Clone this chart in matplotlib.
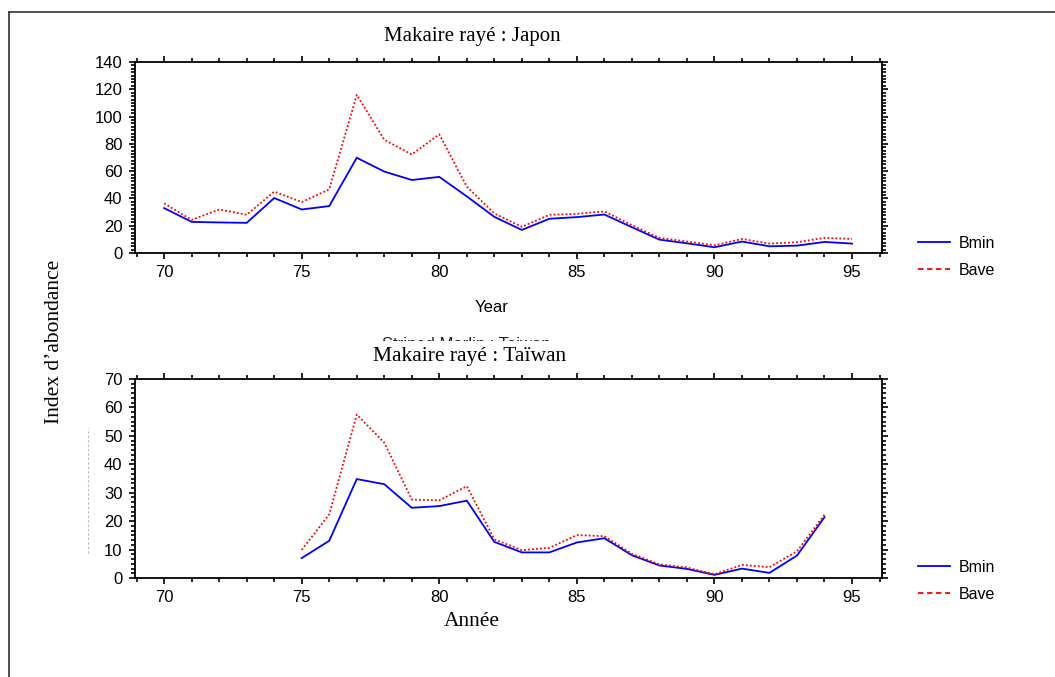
import matplotlib
matplotlib.use('Agg')
import matplotlib.pyplot as plt
from matplotlib.lines import Line2D
from matplotlib.patches import Rectangle
from matplotlib.ticker import MultipleLocator, AutoMinorLocator

# Japon
annees_jp = list(range(70, 96))
bmin_jp = [32.9, 22.8, 22.4, 22.1, 40.3, 31.9, 34.4, 69.8, 59.7, 53.5, 55.8, 41.5, 26.5,
           16.9, 25.1, 26.3, 28.2, 18.9, 9.8, 7.1, 4.2, 8.4, 4.9, 5.4, 8.1, 6.9]
bave_jp = [36.4, 24.3, 31.9, 28.0, 45.0, 37.3, 46.7, 115.9, 83.0, 72.2, 87.0, 48.6, 29.0,
           19.2, 28.0, 28.7, 30.5, 20.4, 11.1, 8.4, 5.6, 10.3, 6.9, 7.9, 11.1, 10.3]

# Taïwan
annees_tw = list(range(75, 95))
bmin_tw = [7.0, 13.1, 34.8, 33.0, 24.7, 25.3, 27.2, 12.7, 9.0, 9.0, 12.5, 14.0,
           8.0, 4.4, 3.2, 1.1, 3.3, 1.8, 7.9, 21.4]
bave_tw = [9.9, 22.4, 57.5, 47.6, 27.6, 27.3, 32.3, 13.6, 9.8, 10.6, 15.1, 14.7,
           8.5, 4.8, 3.7, 1.3, 4.6, 3.8, 9.4, 22.3]

serif = 'Liberation Serif'
sans = 'Liberation Sans'

fig = plt.figure(figsize=(10.55, 6.77), dpi=100)

# cadre de la figure (seuls les bords gauche et haut sont visibles)
fig.add_artist(Line2D([9 / 1055, 9 / 1055], [0, 1 - 12 / 677], color='#333333', lw=1.2))
fig.add_artist(Line2D([9 / 1055, 1], [1 - 12 / 677, 1 - 12 / 677], color='#333333', lw=1.2))


def panneau(rect, x, bmin, bave, ymax, ystep, nminor):
    ax = fig.add_axes(rect)
    ax.plot(x, bmin, color='#0000ff', lw=1.3, solid_joinstyle='miter')
    ax.plot(x, bave, color='#ff0000', lw=1.3, linestyle=(0, (1, 1.2)))
    ax.set_xlim(68.94, 96.09)
    ax.set_ylim(0, ymax)
    ax.xaxis.set_major_locator(MultipleLocator(5))
    ax.xaxis.set_minor_locator(MultipleLocator(1))
    ax.yaxis.set_major_locator(MultipleLocator(ystep))
    ax.yaxis.set_minor_locator(AutoMinorLocator(nminor))
    ax.tick_params(which='both', direction='out', top=True, right=True, width=1.2,
                   labelsize=12, pad=5)
    ax.tick_params(which='major', length=4)
    ax.tick_params(which='minor', length=3)
    for lab in ax.get_xticklabels() + ax.get_yticklabels():
        lab.set_fontfamily(sans)
    for s in ax.spines.values():
        s.set_linewidth(1.3)
    return ax


ax1 = panneau([135 / 1055, 1 - 253 / 677, 747 / 1055, 191 / 677],
              annees_jp, bmin_jp, bave_jp, 140, 20, 8)
ax2 = panneau([135 / 1055, 1 - 578 / 677, 747 / 1055, 199 / 677],
              annees_tw, bmin_tw, bave_tw, 70, 10, 6)

ax1.set_xlabel('Year', fontfamily=sans, fontsize=12)
ax1.xaxis.set_label_coords((492 - 135) / 747, -(308 - 253) / 191)
ax1.xaxis.label.set_va('center')
ax2.set_xlabel('Année', fontfamily=serif, fontsize=15.5)
ax2.xaxis.set_label_coords((472 - 135) / 747, -(621 - 578) / 199)
ax2.xaxis.label.set_va('center')

fig.text(472 / 1055, 1 - 37 / 677, 'Makaire rayé : Japon', family=serif,
         fontsize=15, ha='center', va='center')

# ancien titre anglais, à moitié caché
fig.text(466 / 1055, 1 - 344 / 677, 'Striped Marlin : Taiwan', family=sans,
         fontsize=12, ha='center', va='center', color='#222222', zorder=1)
fig.add_artist(Rectangle((300 / 1055, 1 - 372 / 677), 340 / 1055, 31 / 677,
                         transform=fig.transFigure, facecolor='white',
                         edgecolor='none', zorder=2))
fig.text(470 / 1055, 1 - 357 / 677, 'Makaire rayé : Taïwan', family=serif,
         fontsize=15.5, ha='center', va='center', zorder=3)

fig.text(55 / 1055, 1 - 342 / 677, 'Index d\u2019abondance', family=serif,
         fontsize=15.5, rotation=90, ha='center', va='center')

# petite ligne pointillée grise à gauche
fig.add_artist(Line2D([88 / 1055, 88 / 1055], [1 - 553 / 677, 1 - 428 / 677],
                      color='#bbbbbb', lw=0.8, linestyle=(0, (2, 2))))

handles = [Line2D([], [], color='#0000ff', lw=1.3),
           Line2D([], [], color='#ff0000', lw=1.3, linestyle=(0, (3, 2)))]
for y in (257, 581):
    fig.legend(handles, ['Bmin', 'Bave'], loc='center left',
               bbox_to_anchor=(904 / 1055, 1 - y / 677), frameon=False,
               prop={'family': sans, 'size': 11.5}, handlelength=2.0,
               labelspacing=0.75, handletextpad=0.5)

fig.savefig('out.png', dpi=100)
